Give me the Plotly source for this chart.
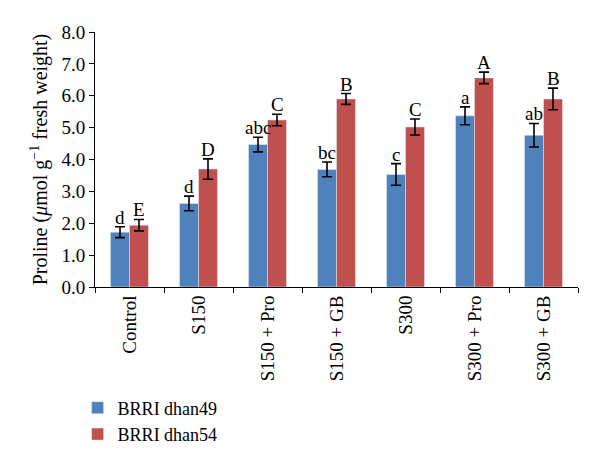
import plotly.graph_objects as go

categories = ["Control", "S150", "S150 + Pro", "S150 + GB", "S300", "S300 + Pro", "S300 + GB"]
dhan49 = [1.72, 2.62, 4.47, 3.69, 3.53, 5.37, 4.76]
dhan49_err = [0.17, 0.23, 0.23, 0.23, 0.34, 0.28, 0.37]
dhan54 = [1.94, 3.70, 5.24, 5.90, 5.02, 6.56, 5.90]
dhan54_err = [0.18, 0.32, 0.18, 0.17, 0.25, 0.18, 0.34]
letters49 = ["d", "d", "abc", "bc", "c", "a", "ab"]
letters54 = ["E", "D", "C", "B", "C", "A", "B"]

FONT = "Liberation Serif"

fig = go.Figure()
fig.add_trace(go.Bar(
    x=categories, y=dhan49, name="BRRI dhan49", marker_color="#4F81BD",
    error_y=dict(type="data", array=dhan49_err, color="black", thickness=1.6, width=5),
))
fig.add_trace(go.Bar(
    x=categories, y=dhan54, name="BRRI dhan54", marker_color="#C0504D",
    error_y=dict(type="data", array=dhan54_err, color="black", thickness=1.6, width=5),
))

for c, v, e, t in zip(categories, dhan49, dhan49_err, letters49):
    fig.add_annotation(x=c, y=v + e, text=t, showarrow=False, xshift=-9.5,
                       yanchor="bottom", yshift=-3, font=dict(family=FONT, size=19, color="black"))
for c, v, e, t in zip(categories, dhan54, dhan54_err, letters54):
    fig.add_annotation(x=c, y=v + e, text=t, showarrow=False, xshift=9.5,
                       yanchor="bottom", yshift=-3, font=dict(family=FONT, size=19, color="black"))

fig.update_layout(
    width=600, height=466,
    margin=dict(l=87, r=30, t=24, b=187),
    plot_bgcolor="white", paper_bgcolor="white",
    barmode="group", bargap=0.45, bargroupgap=0,
    font=dict(family=FONT, size=19, color="black"),
    showlegend=True,
    legend=dict(x=-0.036, y=-0.402, xanchor="left", yanchor="top", orientation="v",
                font=dict(family=FONT, size=18, color="black"), itemwidth=30,
                bgcolor="rgba(0,0,0,0)"),
    xaxis=dict(
        type="category", tickangle=-90, showline=True, linecolor="black", linewidth=1,
        ticks="outside", tickson="boundaries", ticklen=5, tickcolor="black",
        tickfont=dict(family=FONT, size=19, color="black"), showgrid=False,
        automargin=False,
    ),
    yaxis=dict(
        range=[0, 8], dtick=1, tickformat=".1f", showline=True, linecolor="black",
        linewidth=1, ticks="outside", ticklen=5, tickcolor="black", showgrid=False,
        zeroline=False, automargin=False,
        tickfont=dict(family=FONT, size=19, color="black"),
        title=dict(text="Proline (<i>μ</i>mol g<sup>−1</sup> fresh weight)",
                   font=dict(family=FONT, size=20, color="black"), standoff=8),
    ),
)

fig.write_html("out.html")
